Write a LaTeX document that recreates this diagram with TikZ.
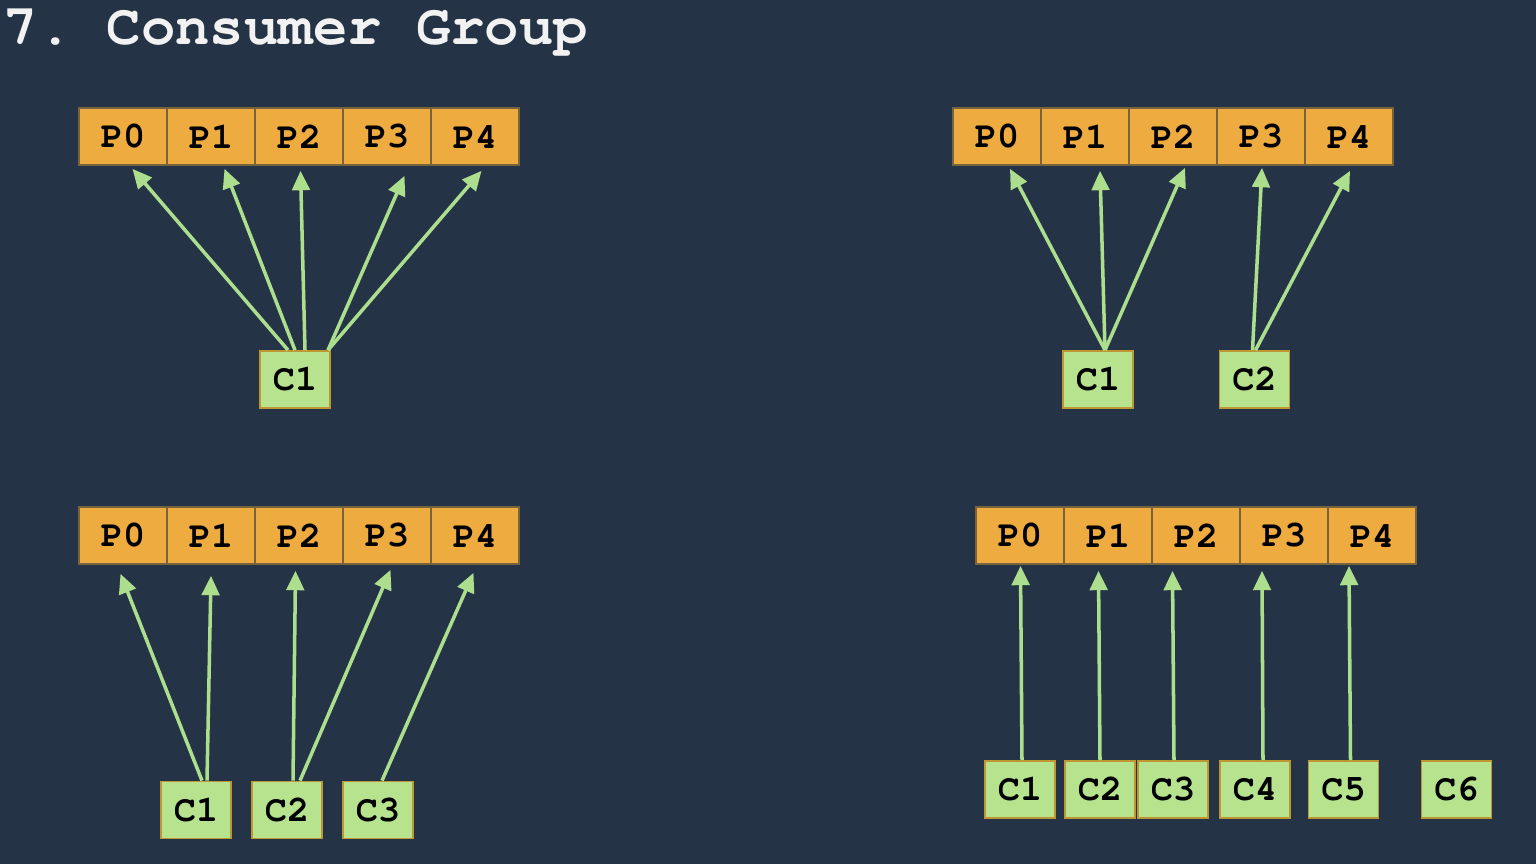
\documentclass[tikz,border=0pt]{standalone}
\usepackage[T1]{fontenc}
\usetikzlibrary{positioning, arrows.meta}
\definecolor{slatebg}{RGB}{36,52,70}
\definecolor{partorange}{RGB}{237,171,64}
\definecolor{partedge}{RGB}{120,100,60}
\definecolor{consgreen}{RGB}{183,227,143}
\definecolor{consedge}{RGB}{190,150,50}
\definecolor{flowgreen}{RGB}{172,222,142}
\newcommand{\cursorbf}{\fontfamily{pcr}\fontseries{b}\selectfont}

\begin{document}
\frenchspacing
\begin{tikzpicture}[>={Triangle[length=5.5pt,width=5pt]},
    part/.style={rectangle, draw=partedge, fill=partorange, line width=0.5pt,
      minimum width=0.88cm, minimum height=0.57cm, inner sep=0pt,
      font=\cursorbf\fontsize{10.5}{12}\selectfont},
    cons/.style={part, draw=consedge, fill=consgreen, minimum width=0.70cm},
    flow/.style={->, draw=flowgreen, line width=1pt}]
  \fill[slatebg] (0,0) rectangle (15.36,-8.64);
  \node[anchor=base west, inner sep=0pt, text=white!95!black,
        font=\cursorbf\fontsize{16.3}{18}\selectfont] (title) at (0.03,-0.45) {7. Consumer Group};

  % one consumer, five partitions
  \node[part] (Ap0) at (1.23,-1.365) {P0};
  \node[part] (Ap1) at (2.11,-1.365) {P1};
  \node[part] (Ap2) at (2.99,-1.365) {P2};
  \node[part] (Ap3) at (3.87,-1.365) {P3};
  \node[part] (Ap4) at (4.75,-1.365) {P4};
  \node[cons] (Ac1) at (2.95,-3.795) {C1};
  \draw[flow] ([xshift=-0.07cm]Ac1.north) -- ([xshift=0.095cm,yshift=-0.03cm]Ap0.south);
  \draw[flow] (Ac1.north) -- ([xshift=0.135cm,yshift=-0.03cm]Ap1.south);
  \draw[flow] ([xshift=0.10cm]Ac1.north) -- ([xshift=0.015cm,yshift=-0.05cm]Ap2.south);
  \draw[flow] ([xshift=0.33cm]Ac1.north) -- ([xshift=0.175cm,yshift=-0.10cm]Ap3.south);
  \draw[flow] ([xshift=0.33cm]Ac1.north) -- ([xshift=0.065cm,yshift=-0.05cm]Ap4.south);

  % two consumers
  \node[part] (Bp0) at (9.97,-1.365) {P0};
  \node[part] (Bp1) at (10.85,-1.365) {P1};
  \node[part] (Bp2) at (11.73,-1.365) {P2};
  \node[part] (Bp3) at (12.61,-1.365) {P3};
  \node[part] (Bp4) at (13.49,-1.365) {P4};
  \node[cons] (Bc1) at (10.98,-3.795) {C1};
  \node[cons] (Bc2) at (12.545,-3.795) {C2};
  \draw[flow] ([xshift=0.07cm]Bc1.north) -- ([xshift=0.13cm,yshift=-0.03cm]Bp0.south);
  \draw[flow] ([xshift=0.07cm]Bc1.north) -- ([xshift=0.15cm,yshift=-0.05cm]Bp1.south);
  \draw[flow] ([xshift=0.07cm]Bc1.north) -- ([xshift=0.12cm,yshift=-0.02cm]Bp2.south);
  \draw[flow] ([xshift=-0.02cm]Bc2.north) -- ([xshift=0.01cm,yshift=-0.02cm]Bp3.south);
  \draw[flow] ([xshift=0.01cm]Bc2.north) -- ([xshift=0.01cm,yshift=-0.05cm]Bp4.south);

  % three consumers
  \node[part] (Cp0) at (1.23,-5.355) {P0};
  \node[part] (Cp1) at (2.11,-5.355) {P1};
  \node[part] (Cp2) at (2.99,-5.355) {P2};
  \node[part] (Cp3) at (3.87,-5.355) {P3};
  \node[part] (Cp4) at (4.75,-5.355) {P4};
  \node[cons] (Cc1) at (1.96,-8.10) {C1};
  \node[cons] (Cc2) at (2.87,-8.10) {C2};
  \node[cons] (Cc3) at (3.78,-8.10) {C3};
  \draw[flow] ([xshift=0.06cm]Cc1.north) -- ([xshift=-0.025cm,yshift=-0.09cm]Cp0.south);
  \draw[flow] ([xshift=0.11cm]Cc1.north) -- ([yshift=-0.11cm]Cp1.south);
  \draw[flow] ([xshift=0.06cm]Cc2.north) -- ([xshift=-0.035cm,yshift=-0.06cm]Cp2.south);
  \draw[flow] ([xshift=0.13cm]Cc2.north) -- ([xshift=0.035cm,yshift=-0.05cm]Cp3.south);
  \draw[flow] ([xshift=0.04cm]Cc3.north) -- ([xshift=-0.015cm,yshift=-0.08cm]Cp4.south);

  % six consumers, C6 idle
  \node[part] (Dp0) at (10.20,-5.355) {P0};
  \node[part] (Dp1) at (11.08,-5.355) {P1};
  \node[part] (Dp2) at (11.96,-5.355) {P2};
  \node[part] (Dp3) at (12.84,-5.355) {P3};
  \node[part] (Dp4) at (13.72,-5.355) {P4};
  \node[cons] (Dc1) at (10.20,-7.895) {C1};
  \node[cons] (Dc2) at (11.00,-7.895) {C2};
  \node[cons] (Dc3) at (11.73,-7.895) {C3};
  \node[cons] (Dc4) at (12.55,-7.895) {C4};
  \node[cons] (Dc5) at (13.435,-7.895) {C5};
  \node[cons] (Dc6) at (14.565,-7.895) {C6};
  \draw[flow] ([xshift=0.02cm]Dc1.north) -- ([xshift=0.005cm,yshift=-0.01cm]Dp0.south);
  \draw[flow] (Dc2.north) -- ([xshift=-0.095cm,yshift=-0.06cm]Dp1.south);
  \draw[flow] ([xshift=0.01cm]Dc3.north) -- ([xshift=-0.235cm,yshift=-0.06cm]Dp2.south);
  \draw[flow] ([xshift=0.08cm]Dc4.north) -- ([xshift=-0.22cm,yshift=-0.06cm]Dp3.south);
  \draw[flow] ([xshift=0.07cm]Dc5.north) -- ([xshift=-0.23cm,yshift=-0.01cm]Dp4.south);
\end{tikzpicture}
\end{document}
